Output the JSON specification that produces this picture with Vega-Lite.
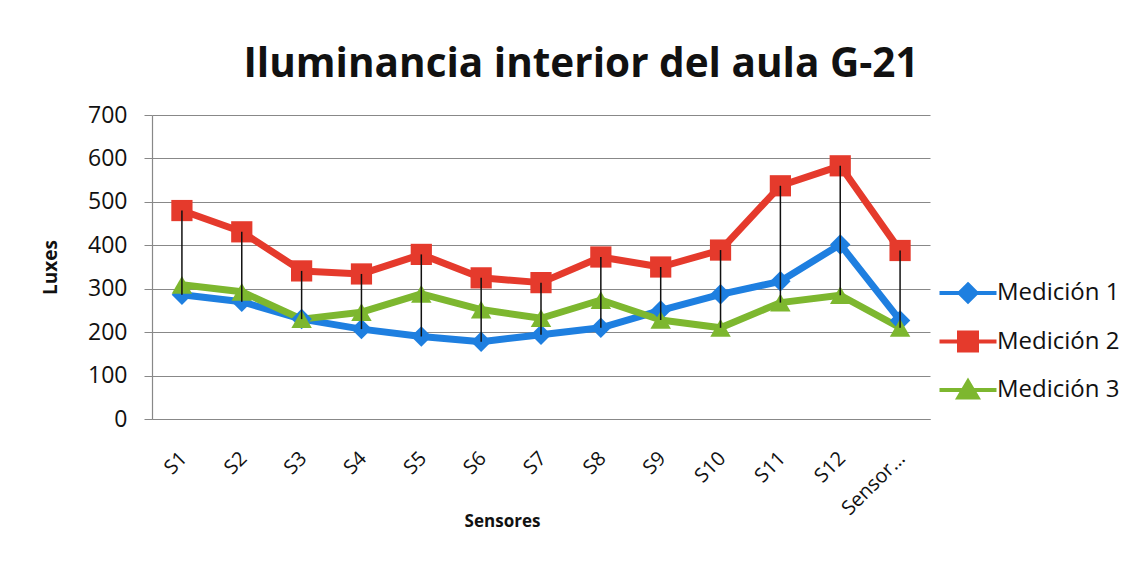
{
  "$schema": "https://vega.github.io/schema/vega-lite/v6.json",
  "autosize": "none",
  "width": 778,
  "height": 304,
  "padding": {"left": 152, "top": 115, "right": 208, "bottom": 159},
  "background": "white",
  "config": {
    "font": "Open Sans",
    "view": {"stroke": null}
  },
  "title": {
    "text": "Iluminancia interior del aula G-21",
    "font": "Open Sans",
    "fontSize": 40.5,
    "fontWeight": "bold",
    "color": "#111111",
    "anchor": "middle",
    "frame": "group",
    "dx": 40,
    "offset": 19
  },
  "data": {
    "values": [
      {"sensor": "S1", "serie": "Medición 1", "value": 286},
      {"sensor": "S2", "serie": "Medición 1", "value": 270},
      {"sensor": "S3", "serie": "Medición 1", "value": 230},
      {"sensor": "S4", "serie": "Medición 1", "value": 207},
      {"sensor": "S5", "serie": "Medición 1", "value": 190},
      {"sensor": "S6", "serie": "Medición 1", "value": 178},
      {"sensor": "S7", "serie": "Medición 1", "value": 194},
      {"sensor": "S8", "serie": "Medición 1", "value": 210},
      {"sensor": "S9", "serie": "Medición 1", "value": 250},
      {"sensor": "S10", "serie": "Medición 1", "value": 287},
      {"sensor": "S11", "serie": "Medición 1", "value": 317},
      {"sensor": "S12", "serie": "Medición 1", "value": 402},
      {"sensor": "Sensor...", "serie": "Medición 1", "value": 227},
      {"sensor": "S1", "serie": "Medición 2", "value": 480},
      {"sensor": "S2", "serie": "Medición 2", "value": 431},
      {"sensor": "S3", "serie": "Medición 2", "value": 341},
      {"sensor": "S4", "serie": "Medición 2", "value": 334},
      {"sensor": "S5", "serie": "Medición 2", "value": 379},
      {"sensor": "S6", "serie": "Medición 2", "value": 325},
      {"sensor": "S7", "serie": "Medición 2", "value": 314},
      {"sensor": "S8", "serie": "Medición 2", "value": 373},
      {"sensor": "S9", "serie": "Medición 2", "value": 350},
      {"sensor": "S10", "serie": "Medición 2", "value": 389},
      {"sensor": "S11", "serie": "Medición 2", "value": 537},
      {"sensor": "S12", "serie": "Medición 2", "value": 583},
      {"sensor": "Sensor...", "serie": "Medición 2", "value": 388},
      {"sensor": "S1", "serie": "Medición 3", "value": 309},
      {"sensor": "S2", "serie": "Medición 3", "value": 293},
      {"sensor": "S3", "serie": "Medición 3", "value": 230},
      {"sensor": "S4", "serie": "Medición 3", "value": 246},
      {"sensor": "S5", "serie": "Medición 3", "value": 288},
      {"sensor": "S6", "serie": "Medición 3", "value": 252},
      {"sensor": "S7", "serie": "Medición 3", "value": 232},
      {"sensor": "S8", "serie": "Medición 3", "value": 274},
      {"sensor": "S9", "serie": "Medición 3", "value": 228},
      {"sensor": "S10", "serie": "Medición 3", "value": 210},
      {"sensor": "S11", "serie": "Medición 3", "value": 268},
      {"sensor": "S12", "serie": "Medición 3", "value": 285},
      {"sensor": "Sensor...", "serie": "Medición 3", "value": 210}
    ]
  },
  "encoding": {
    "x": {
      "field": "sensor",
      "type": "nominal",
      "sort": ["S1","S2","S3","S4","S5","S6","S7","S8","S9","S10","S11","S12","Sensor..."],
      "scale": {"type": "band", "paddingInner": 0, "paddingOuter": 0},
      "axis": {
        "title": "Sensores",
        "titleFont": "Open Sans",
        "titleFontSize": 17,
        "titleFontWeight": "bold",
        "titleColor": "#111111",
        "titleX": 350,
        "titleY": 102,
        "titleBaseline": "middle",
        "labelAngle": -45,
        "labelAlign": "right",
        "labelBaseline": "middle",
        "labelFontSize": 20,
        "labelColor": "#111111",
        "labelPadding": 36,
        "labelOffset": 2,
        "ticks": false,
        "domainColor": "#888888",
        "domainWidth": 1.2,
        "grid": false
      }
    },
    "y": {
      "field": "value",
      "type": "quantitative",
      "scale": {"domain": [0, 700]},
      "axis": {
        "title": "Luxes",
        "titleFont": "Open Sans",
        "titleFontSize": 19,
        "titleFontWeight": "bold",
        "titleColor": "#111111",
        "titleX": -92,
        "titleY": 152,
        "values": [0,100,200,300,400,500,600,700],
        "labelFontSize": 23,
        "labelColor": "#111111",
        "labelPadding": 17,
        "tickSize": 8,
        "tickColor": "#888888",
        "domainColor": "#888888",
        "domainWidth": 1.2,
        "gridColor": "#888888",
        "gridWidth": 1.2
      }
    },
    "color": {
      "field": "serie",
      "type": "nominal",
      "scale": {"domain": ["Medición 1","Medición 2","Medición 3"], "range": ["#1E7FE0","#E53A2C","#7DB72F"]},
      "legend": {
        "title": null,
        "orient": "none",
        "legendX": 804,
        "legendY": 166,
        "labelFontSize": 24,
        "labelColor": "#111111",
        "labelFont": "Open Sans",
        "symbolSize": 400,
        "symbolStrokeWidth": 4,
        "rowPadding": 14.5,
        "labelOffset": 17,
        "encode": {
          "symbols": {
            "update": {
              "shape": {"signal": "datum.value === 'Medición 1' ? 'M-2.85,0H2.85M0,-0.85L0.85,0L0,0.85L-0.85,0Z' : datum.value === 'Medición 2' ? 'M-2.85,0H2.85M-0.9,-0.9H0.9V0.9H-0.9Z' : 'M-2.85,0H2.85M0,-0.85L0.95,0.75H-0.95Z'"},
              "fill": {"scale": "color", "field": "value"},
              "stroke": {"scale": "color", "field": "value"},
              "strokeWidth": {"value": 4},
              "opacity": {"value": 1},
              "fillOpacity": {"value": 1}
            }
          }
        }
      }
    }
  },
  "layer": [
    {
      "mark": {"type": "line", "strokeWidth": 7, "strokeJoin": "round"}
    },
    {
      "transform": [{"filter": "datum.serie === 'Medición 1'"}],
      "mark": {"type": "point", "filled": true, "opacity": 1, "size": 420, "shape": "diamond"}
    },
    {
      "transform": [{"filter": "datum.serie === 'Medición 2'"}],
      "mark": {"type": "point", "filled": true, "opacity": 1, "size": 450, "shape": "square"}
    },
    {
      "transform": [{"filter": "datum.serie === 'Medición 3'"}],
      "mark": {"type": "point", "filled": true, "opacity": 1, "size": 420, "shape": "triangle-up"}
    },
    {
      "mark": {"type": "rule", "color": "#111111", "strokeWidth": 1.5},
      "encoding": {
        "color": {"value": "#111111"},
        "y": {"aggregate": "max", "field": "value", "type": "quantitative"},
        "y2": {"aggregate": "min", "field": "value"}
      }
    }
  ]
}
